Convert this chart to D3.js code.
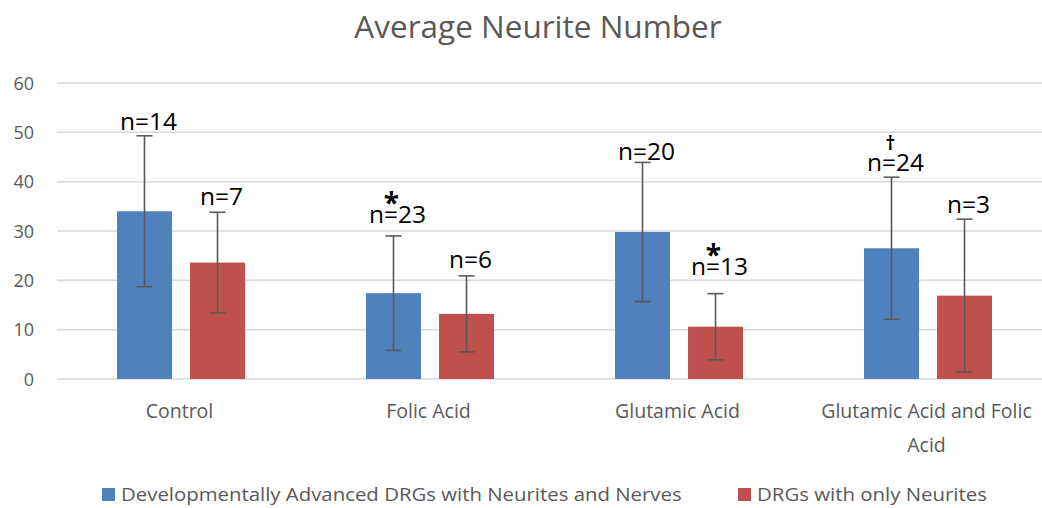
<!DOCTYPE html>
<html>
<head>
<meta charset="utf-8">
<script src="https://cdn.jsdelivr.net/npm/d3@7"></script>
<style>
  html, body { margin: 0; padding: 0; background: #fff; }
  svg { display: block; }
</style>
</head>
<body>
<svg id="chart" width="1042" height="508"></svg>
<script>
// ---- data ----
const categories = ["Control", "Folic Acid", "Glutamic Acid", "Glutamic Acid and Folic Acid"];
const seriesNames = ["Developmentally Advanced DRGs with Neurites and Nerves", "DRGs with only Neurites"];
const advancedMeans = [34.0, 17.4, 29.8, 26.5];
const advancedErrors = [15.3, 11.6, 14.1, 14.4];
const advancedN = ["n=14", "n=23", "n=20", "n=24"];
const advancedMarks = ["", "*", "", "†"];
const neuriteMeans = [23.6, 13.2, 10.6, 16.9];
const neuriteErrors = [10.2, 7.7, 6.7, 15.5];
const neuriteN = ["n=7", "n=6", "n=13", "n=3"];
const neuriteMarks = ["", "", "*", ""];
const yTicks = [0, 10, 20, 30, 40, 50, 60];
const title = "Average Neurite Number";

// ---- styles / layout ----
const colors = ["#4F81BD", "#C0504D"];
const textGray = "#595959";
const font = "'Open Sans', 'DejaVu Sans', sans-serif";
// pixel gap between error-bar top and label baseline, per series per category
const labelGaps = [[6, 13, 2, 6], [7, 8, 19, 6]];

const svg = d3.select("#chart");
const plot = { left: 57, right: 1053, top: 83, bottom: 379 };

const y = d3.scaleLinear().domain([0, 60]).range([plot.bottom, plot.top]);
const x0 = d3.scaleBand().domain(categories).range([plot.left, plot.right]).padding(0);
const bw = x0.bandwidth();
const x1 = d3.scaleBand().domain([0, 1]).range([bw * 0.241, bw * 0.755]).paddingInner(0.247).paddingOuter(0);

const series = [
  { means: advancedMeans, errs: advancedErrors, ns: advancedN, marks: advancedMarks },
  { means: neuriteMeans, errs: neuriteErrors, ns: neuriteN, marks: neuriteMarks }
];

// title
svg.append("text")
  .attr("x", 538).attr("y", 38)
  .attr("text-anchor", "middle")
  .attr("font-family", font).attr("font-size", 31.5)
  .attr("fill", textGray)
  .text(title);

// gridlines
svg.append("g").selectAll("line").data(yTicks).join("line")
  .attr("x1", plot.left).attr("x2", plot.right)
  .attr("y1", d => y(d)).attr("y2", d => y(d))
  .attr("stroke", "#D9D9D9").attr("stroke-width", 1.5);

// y axis labels
const yAxis = d3.axisLeft(y).tickValues(yTicks).tickSize(0).tickPadding(0);
const yg = svg.append("g").attr("transform", `translate(34,0)`).call(yAxis);
yg.select(".domain").remove();
yg.selectAll("text")
  .attr("font-family", font).attr("font-size", 18)
  .attr("fill", textGray).attr("dy", "0.35em");

// bars, error bars, labels
series.forEach((s, si) => {
  const g = svg.append("g");
  categories.forEach((c, ci) => {
    const bx = x0(c) + x1(si);
    const w = x1.bandwidth();
    const cx = bx + w / 2;
    const m = s.means[ci], e = s.errs[ci];
    g.append("rect")
      .attr("x", bx).attr("y", y(m))
      .attr("width", w).attr("height", y(0) - y(m))
      .attr("fill", colors[si]);
    const top = y(m + e), bot = y(Math.max(0, m - e));
    g.append("line").attr("x1", cx).attr("x2", cx).attr("y1", top).attr("y2", bot)
      .attr("stroke", "#595959").attr("stroke-width", 1.6);
    [top, bot].forEach(yy => {
      g.append("line").attr("x1", cx - 8).attr("x2", cx + 8).attr("y1", yy).attr("y2", yy)
        .attr("stroke", "#595959").attr("stroke-width", 1.6);
    });
    const base = top - labelGaps[si][ci];
    const lx = cx + 4;
    const t = g.append("text")
      .attr("text-anchor", "middle")
      .attr("font-family", font)
      .attr("fill", "#000");
    const mk = s.marks[ci];
    if (mk === "*") {
      t.append("tspan").attr("x", lx - 6).attr("y", base - 10)
        .attr("font-size", 28).attr("font-weight", "bold").text(mk);
    } else if (mk) {
      t.append("tspan").attr("x", lx - 5).attr("y", base - 21)
        .attr("font-size", 19).attr("font-weight", "bold").text(mk);
    }
    t.append("tspan").attr("x", lx).attr("y", base)
      .attr("font-size", 24.5).text(s.ns[ci]);
  });
});

// x category labels (wrapped)
const xFont = 19.5;
function wrapWords(text, maxW, fs) {
  const words = text.split(" ");
  const tmp = svg.append("text").attr("font-family", font).attr("font-size", fs);
  const lines = [];
  let line = [];
  words.forEach(wd => {
    line.push(wd);
    tmp.text(line.join(" "));
    if (tmp.node().getComputedTextLength() > maxW && line.length > 1) {
      line.pop();
      lines.push(line.join(" "));
      line = [wd];
    }
  });
  lines.push(line.join(" "));
  tmp.remove();
  return lines;
}
categories.forEach(c => {
  const lines = wrapWords(c, 235, xFont);
  const t = svg.append("text")
    .attr("x", x0(c) + bw / 2 - 2).attr("y", 418)
    .attr("text-anchor", "middle")
    .attr("font-family", font).attr("font-size", xFont)
    .attr("fill", textGray);
  lines.forEach((l, i) => {
    t.append("tspan").attr("x", x0(c) + bw / 2 - 2).attr("dy", i === 0 ? 0 : 34).text(l);
  });
});

// legend
const legendItems = [
  { x: 102, textX: 121, textW: 561 },
  { x: 738, textX: 757, textW: 230 }
];
seriesNames.forEach((name, i) => {
  const li = legendItems[i];
  svg.append("rect").attr("x", li.x).attr("y", 488).attr("width", 13).attr("height", 13)
    .attr("fill", colors[i]);
  const t = svg.append("text").attr("x", 0).attr("y", 0)
    .attr("font-family", font).attr("font-size", 18.5)
    .attr("fill", textGray)
    .text(name);
  const natural = t.node().getComputedTextLength();
  t.attr("transform", `translate(${li.textX},501) scale(${li.textW / natural},1)`);
});
</script>
</body>
</html>
